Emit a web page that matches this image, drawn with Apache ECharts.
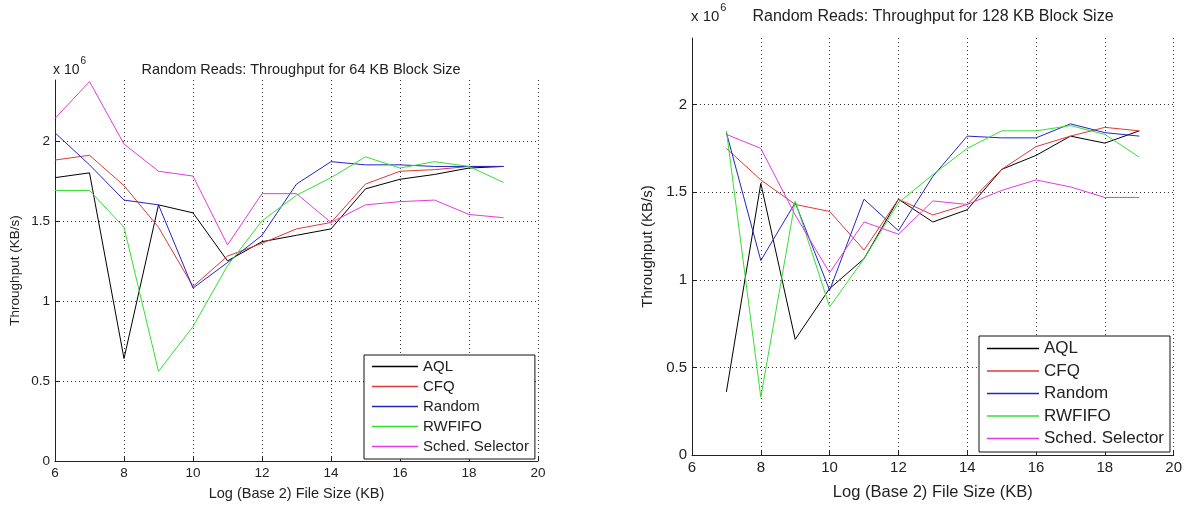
<!DOCTYPE html>
<html>
<head>
<meta charset="utf-8">
<script src="https://cdn.jsdelivr.net/npm/echarts@6/dist/echarts.min.js"></script>
<style>
  html, body { margin: 0; padding: 0; background: #fff; }
  #chart { width: 1185px; height: 506px; }
</style>
</head>
<body>
<div id="chart"></div>
<script>
// throughput in units of 10^6 KB/s, x = log2 file size
let names = ['AQL', 'CFQ', 'Random', 'RWFIFO', 'Sched. Selector'];
let colors = ['#000000', '#e03838', '#2424c8', '#34e034', '#e03ce0'];

// 64 KB block size, x = 6..19
let x64 = [6, 7, 8, 9, 10, 11, 12, 13, 14, 15, 16, 17, 18, 19];
let aql64 = [1.77, 1.80, 0.64, 1.60, 1.55, 1.25, 1.37, 1.41, 1.45, 1.70, 1.76, 1.79, 1.83, 1.84];
let cfq64 = [1.88, 1.91, 1.72, 1.46, 1.09, 1.28, 1.36, 1.45, 1.49, 1.73, 1.81, 1.82, 1.84, 1.84];
let random64 = [2.05, 1.85, 1.63, 1.60, 1.08, 1.24, 1.41, 1.73, 1.87, 1.85, 1.85, 1.84, 1.84, 1.84];
let rwfifo64 = [1.69, 1.69, 1.46, 0.56, 0.84, 1.22, 1.50, 1.66, 1.77, 1.90, 1.83, 1.87, 1.84, 1.74];
let sched64 = [2.14, 2.37, 1.98, 1.81, 1.78, 1.35, 1.67, 1.67, 1.49, 1.60, 1.62, 1.63, 1.54, 1.52];

// 128 KB block size, x = 7..19
let x128 = [7, 8, 9, 10, 11, 12, 13, 14, 15, 16, 17, 18, 19];
let aql128 = [0.36, 1.55, 0.66, 0.95, 1.12, 1.46, 1.33, 1.40, 1.63, 1.71, 1.82, 1.78, 1.85];
let cfq128 = [1.75, 1.57, 1.43, 1.39, 1.17, 1.46, 1.37, 1.43, 1.63, 1.76, 1.82, 1.87, 1.85];
let random128 = [1.84, 1.11, 1.44, 0.94, 1.46, 1.28, 1.59, 1.82, 1.81, 1.81, 1.89, 1.84, 1.82];
let rwfifo128 = [1.85, 0.33, 1.45, 0.845, 1.12, 1.44, 1.60, 1.75, 1.85, 1.85, 1.88, 1.83, 1.70];
let sched128 = [1.83, 1.75, 1.37, 1.04, 1.33, 1.26, 1.45, 1.43, 1.51, 1.57, 1.53, 1.47, 1.47];

let set64 = [aql64, cfq64, random64, rwfifo64, sched64];
let set128 = [aql128, cfq128, random128, rwfifo128, sched128];

function pairs(xs, ys) {
  return xs.map(function (x, i) { return [x, ys[i]]; });
}

let font = 'Liberation Sans, Arial, sans-serif';

function xAxisFor(idx, size, nameSize, gap) {
  return {
    type: 'value', gridIndex: idx, min: 6, max: 20, interval: 2,
    name: 'Log (Base 2) File Size (KB)',
    nameLocation: 'middle', nameGap: gap,
    nameTextStyle: { color: '#222', fontSize: nameSize, fontFamily: font },
    axisLine: { lineStyle: { color: '#222', width: 1 } },
    axisTick: { inside: true, length: 5, lineStyle: { color: '#222' } },
    axisLabel: { color: '#222', fontSize: size, fontFamily: font, margin: 5 },
    splitLine: { show: true, showMinLine: false, lineStyle: { color: '#333', type: [1, 3], width: 1 } }
  };
}

function yAxisFor(idx, size, gap) {
  return {
    type: 'value', gridIndex: idx, min: 0, max: 2.38, interval: 0.5,
    name: 'Throughput (KB/s)',
    nameLocation: 'middle', nameGap: gap, nameRotate: 90,
    nameTextStyle: { color: '#222', fontSize: size, fontFamily: font },
    axisLine: { show: true, lineStyle: { color: '#222', width: 1 } },
    axisTick: { show: true, inside: true, length: 5, lineStyle: { color: '#222' } },
    axisLabel: { color: '#222', fontSize: size, fontFamily: font, margin: 5, showMaxLabel: false },
    splitLine: { show: true, showMinLine: false, showMaxLine: false, lineStyle: { color: '#333', type: [1, 3], width: 1 } }
  };
}

let series = [];
names.forEach(function (n, i) {
  series.push({
    name: n, type: 'line', xAxisIndex: 0, yAxisIndex: 0,
    data: pairs(x64, set64[i]), showSymbol: false, symbol: 'none',
    lineStyle: { color: colors[i], width: 1 }, itemStyle: { color: colors[i] }
  });
});
names.forEach(function (n, i) {
  series.push({
    name: n, type: 'line', xAxisIndex: 1, yAxisIndex: 1,
    data: pairs(x128, set128[i]), showSymbol: false, symbol: 'none',
    lineStyle: { color: colors[i], width: 1 }, itemStyle: { color: colors[i] }
  });
});

function legendFor(left, top, size, w, rowH) {
  return {
    data: names, orient: 'vertical', left: left, top: top,
    backgroundColor: '#fff', borderColor: '#111', borderWidth: 1,
    padding: [3, 6, 4, 8], icon: 'rect', itemWidth: w, itemHeight: 1.5,
    itemGap: rowH - size - 2, selectedMode: false,
    textStyle: { color: '#222', fontSize: size, fontFamily: font, lineHeight: size + 2, padding: [0, 0, 0, 0] }
  };
}

function powerLabel(size) {
  return {
    rich: {
      a: { fontSize: size, color: '#222', fontFamily: font, fontWeight: 'normal', padding: [7, 1, 0, 0] },
      b: { fontSize: size - 4, color: '#222', fontFamily: font, fontWeight: 'normal', verticalAlign: 'top' }
    }
  };
}

let option = {
  animation: false,
  backgroundColor: '#fff',
  color: colors,
  title: [
    { text: 'Random Reads: Throughput for 64 KB Block Size', left: 296, top: 57, textAlign: 'center',
      textStyle: { fontSize: 14.5, fontWeight: 'normal', color: '#222', fontFamily: font } },
    { text: 'Random Reads: Throughput for 128 KB Block Size', left: 928, top: 4, textAlign: 'center',
      textStyle: { fontSize: 16, fontWeight: 'normal', color: '#222', fontFamily: font } },
    { text: '{a|x 10}{b|6}', left: 48, top: 51, textStyle: powerLabel(14) },
    { text: '{a|x 10}{b|6}', left: 686, top: -3, textStyle: powerLabel(15) }
  ],
  legend: [
    legendFor(364, 355, 15, 46, 20),
    legendFor(979, 336, 17, 52, 22.5)
  ],
  grid: [
    { left: 55, right: 647, top: 80, bottom: 43 },
    { left: 692, right: 9, top: 38, bottom: 47 }
  ],
  xAxis: [xAxisFor(0, 13.5, 14.5, 25), xAxisFor(1, 15, 16.5, 29)],
  yAxis: [yAxisFor(0, 13.5, 33), yAxisFor(1, 15, 37)],
  series: series
};

var chartDom = document.getElementById('chart');
var chart = echarts.init(chartDom);
chart.setOption(option);
</script>
</body>
</html>
